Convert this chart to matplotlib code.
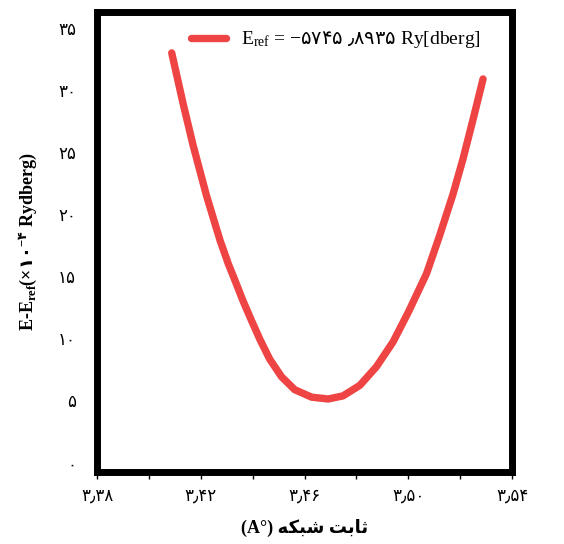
import matplotlib
matplotlib.use('Agg')
import matplotlib.pyplot as plt
from matplotlib.ticker import MultipleLocator

plt.rcParams['font.family'] = ['Liberation Serif', 'DejaVu Sans']
# math text: serif for latin, DejaVu for the persian digits
plt.rcParams['mathtext.fontset'] = 'custom'
plt.rcParams['mathtext.rm'] = 'Liberation Serif'
plt.rcParams['mathtext.it'] = 'Liberation Serif:italic'
plt.rcParams['mathtext.bf'] = 'Liberation Serif:bold'
plt.rcParams['mathtext.sf'] = 'DejaVu Sans'
plt.rcParams['mathtext.tt'] = 'DejaVu Sans:bold'

# lattice constant (A) and E - Eref (x1e-4 Ry)
lattice = [3.4088, 3.4132, 3.4171, 3.4222, 3.4274, 3.4306, 3.4331, 3.4363,
           3.4396, 3.4428, 3.4466, 3.4511, 3.4562, 3.4627, 3.4691, 3.4748,
           3.4813, 3.4877, 3.4941, 3.5000, 3.5070, 3.5121, 3.5172, 3.5210,
           3.5249, 3.5288]
energy = [33.1, 29.0, 25.6, 21.6, 18.0, 16.1, 14.8, 13.1,
          11.5, 10.0, 8.4, 7.0, 5.95, 5.35, 5.2, 5.45,
          6.3, 7.8, 9.8, 12.2, 15.3, 18.4, 21.7, 24.5,
          27.7, 31.0]

xticks = [3.38, 3.42, 3.46, 3.50, 3.54]
xtick_labels = ['۳٫۳۸', '۳٫۴۲', '۳٫۴۶', '۳٫۵۰', '۳٫۵۴']
yticks = [0, 5, 10, 15, 20, 25, 30, 35]
ytick_labels = ['۰', '۵', '۱۰', '۱۵', '۲۰', '۲۵', '۳۰', '۳۵']

legend_label = r'E$_{\mathrm{ref}}$ = −$\mathsf{۵۷۴۵\ ٫۸۹۳۵}$ Ry[dberg]'
# "ثابت شبکه" in visual (shaped) order
xlabel = '(A°) ' + '\uFEEA\uFB91\uFE92\uFEB7 \uFE96\uFE91\uFE8E\uFE9B'
ylabel = r'E-E$_{\mathbf{ref}}$(×$\mathtt{۱۰}^{\mathbf{-}\mathtt{۴}}$ Rydberg)'

fig = plt.figure(figsize=(5.64, 5.44), dpi=100)
ax = fig.add_axes([0.172, 0.132, 0.736, 0.846])

ax.plot(lattice, energy, color='#EF4444', lw=5.3, solid_capstyle='round',
        solid_joinstyle='round', label=legend_label)

ax.set_xlim(3.38, 3.54)
ax.set_ylim(-0.7, 36.4)
ax.set_xticks(xticks)
ax.set_xticklabels(xtick_labels, fontsize=12)
ax.xaxis.set_minor_locator(MultipleLocator(0.02))
ax.set_yticks(yticks)
ax.set_yticklabels(ytick_labels, fontsize=12)
ax.tick_params(axis='x', which='both', direction='out', length=5, width=1, pad=7)
ax.tick_params(axis='y', length=0, pad=15)

for s in ax.spines.values():
    s.set_linewidth(5)

ax.set_xlabel(xlabel, fontsize=13, fontweight='bold', labelpad=10)
ax.set_ylabel(ylabel, fontsize=13, fontweight='bold', labelpad=14)

leg = ax.legend(loc='upper center', bbox_to_anchor=(0.575, 1.0), frameon=False,
                fontsize=14, handlelength=1.8, handletextpad=0.8)

fig.savefig('out.png', dpi=100)
